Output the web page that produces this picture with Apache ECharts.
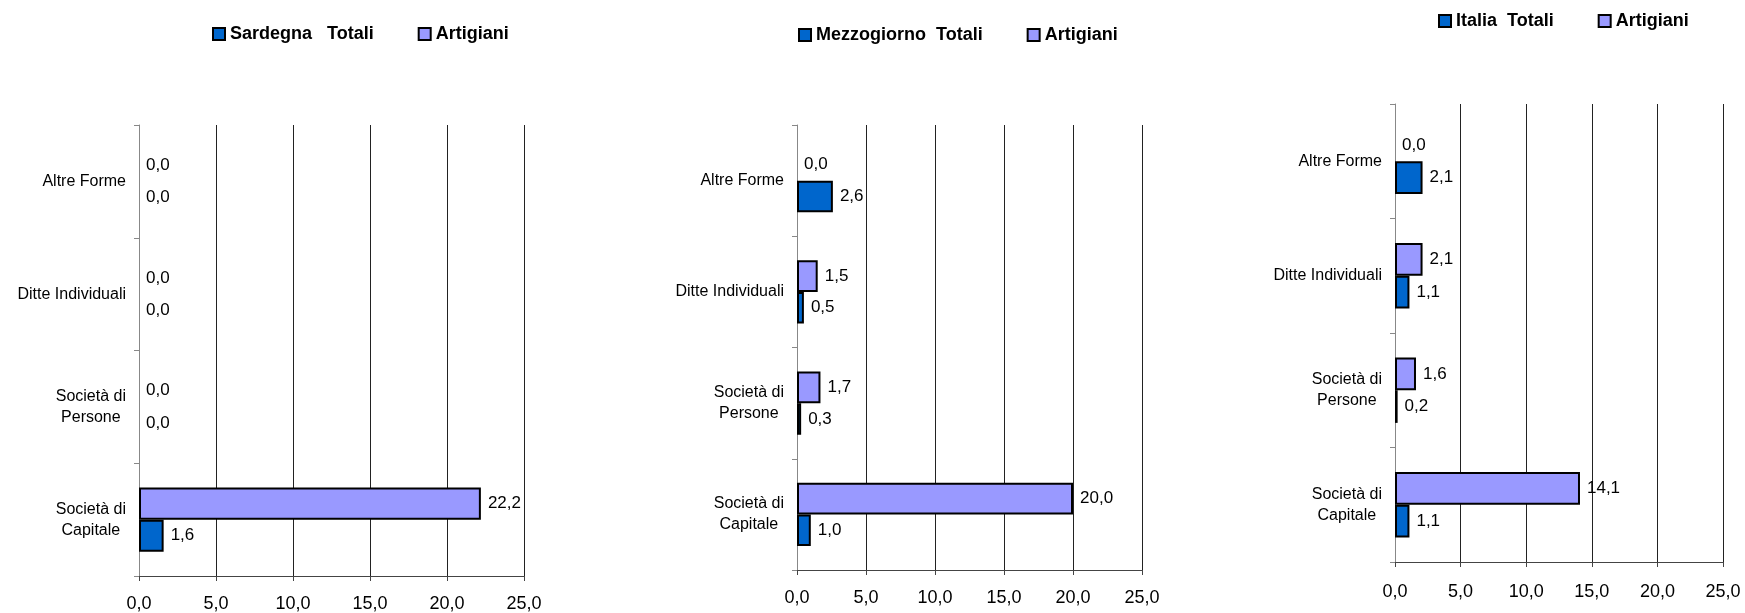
<!DOCTYPE html>
<html>
<head>
<meta charset="utf-8">
<title>Forme giuridiche</title>
<script src="https://cdn.jsdelivr.net/npm/echarts@6/dist/echarts.min.js"></script>
<style>
html,body{margin:0;padding:0;background:#fff;}
#container{width:1745px;height:613px;}
</style>
</head>
<body>
<div id="container"></div>
<script>
// dati (categorie dal basso verso l'alto)
var categories = ['Società di\nCapitale', 'Società di\nPersone', 'Ditte Individuali', 'Altre Forme'];
var xTicks = [0, 5, 10, 15, 20, 25];
var totaliNames = ['Sardegna   Totali', 'Mezzogiorno  Totali', 'Italia  Totali'];
var artigianiName = 'Artigiani';
var sardegnaTotali = [1.6, 0.0, 0.0, 0.0];
var sardegnaArtigiani = [22.2, 0.0, 0.0, 0.0];
var mezzogiornoTotali = [1.0, 0.3, 0.5, 2.6];
var mezzogiornoArtigiani = [20.0, 1.7, 1.5, 0.0];
var italiaTotali = [1.1, 0.2, 1.1, 2.1];
var italiaArtigiani = [14.1, 1.6, 2.1, 0.0];

var page = {
	font: 'Liberation Sans, Arial, sans-serif',
	panels: [
		{grid: {left: 139, top: 125, width: 385, height: 452}, legend: {left: 212, top: 25}, labelMargin: 19, totali: sardegnaTotali, artigiani: sardegnaArtigiani},
		{grid: {left: 797, top: 125, width: 345, height: 445}, legend: {left: 798, top: 26}, labelMargin: 19, totali: mezzogiornoTotali, artigiani: mezzogiornoArtigiani},
		{grid: {left: 1395, top: 104, width: 328, height: 458}, legend: {left: 1438, top: 12}, labelMargin: 21, totali: italiaTotali, artigiani: italiaArtigiani}
	],
	init: function () {
		this.generateCharts();
	},
	//格式 0,0
	fmt: function (v) {
		return Number(v).toFixed(1).replace('.', ',');
	},
	barData: function (arr) {
		return arr.map(function (v) {
			return v === 0 ? {value: v, itemStyle: {borderWidth: 0}} : v;
		});
	},
	barSeries: function (name, arr, color, idx) {
		var that = this;
		return {
			name: name,
			type: 'bar',
			xAxisIndex: idx,
			yAxisIndex: idx,
			barGap: '0%',
			barCategoryGap: '43%',
			itemStyle: {color: color, borderColor: '#000', borderWidth: 2},
			label: {
				show: true,
				position: 'right',
				distance: 7,
				color: '#000',
				fontSize: 17,
				fontFamily: that.font,
				formatter: function (p) { return that.fmt(p.value); }
			},
			data: that.barData(arr)
		};
	},
	generateCharts: function () {
		var that = this;
		var option = {backgroundColor: '#fff', animation: false, grid: [], xAxis: [], yAxis: [], legend: [], series: []};
		that.panels.forEach(function (p, i) {
			option.grid.push(p.grid);
			option.legend.push({
				left: p.legend.left,
				top: p.legend.top,
				padding: 0,
				itemWidth: 12,
				itemHeight: 12,
				itemGap: 44,
				icon: 'rect',
				itemStyle: {borderColor: '#000', borderWidth: 2},
				textStyle: {fontSize: 18, fontWeight: 'bold', color: '#000', fontFamily: that.font},
				data: [totaliNames[i], artigianiName]
			});
			option.xAxis.push({
				type: 'value',
				gridIndex: i,
				min: xTicks[0],
				max: xTicks[xTicks.length - 1],
				interval: xTicks[1] - xTicks[0],
				axisLine: {show: true, lineStyle: {color: '#444', width: 1}},
				axisTick: {show: true, length: 5, lineStyle: {color: '#444'}},
				splitLine: {show: true, lineStyle: {color: '#222', width: 1}},
				axisLabel: {
					margin: p.labelMargin,
					fontSize: 18,
					color: '#000',
					fontFamily: that.font,
					formatter: function (v) { return that.fmt(v); }
				}
			});
			option.yAxis.push({
				type: 'category',
				gridIndex: i,
				data: categories,
				axisLine: {show: true, lineStyle: {color: '#888', width: 1}},
				axisTick: {show: true, length: 5, lineStyle: {color: '#888'}},
				axisLabel: {
					margin: 13,
					fontSize: 16,
					lineHeight: 21,
					color: '#000',
					fontFamily: that.font,
					formatter: function (v) {
						return v.split('\n').map(function (s) { return '{c|' + s + '}'; }).join('\n');
					},
					rich: {c: {align: 'center', fontSize: 16, lineHeight: 21, color: '#000', fontFamily: that.font}}
				}
			});
			option.series.push(that.barSeries(artigianiName, p.artigiani, '#9999FF', i));
			option.series.push(that.barSeries(totaliNames[i], p.totali, '#0066CC', i));
		});
		echarts.init(document.getElementById('container')).setOption(option);
	}
};

page.init();
</script>
</body>
</html>
